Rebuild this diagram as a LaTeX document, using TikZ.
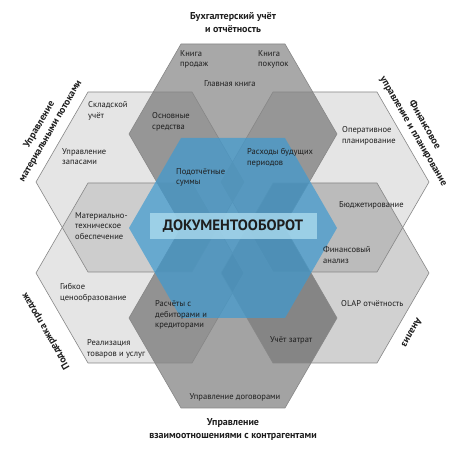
\documentclass[tikz,border=0pt]{standalone}
\usepackage{fontspec}
\setmainfont{PT Sans}
\definecolor{hexblue}{RGB}{61,154,209}
\definecolor{rectblue}{RGB}{170,218,238}
\definecolor{edgegray}{RGB}{135,135,135}
\definecolor{txt}{RGB}{30,30,30}
\begin{document}
\begin{tikzpicture}[x=1pt,y=-1pt,
  hexa/.pic={\path[pic actions] (-104,0) -- (-52,-90) -- (52,-90) -- (104,0) -- (52,90) -- (-52,90) -- cycle;},
  lbl/.style={font=\fontsize{8.5}{10.8}\selectfont, align=left, inner sep=0pt, anchor=north west, text=txt},
  hd/.style={font=\bfseries\fontsize{10}{13}\selectfont, align=center, inner sep=0pt, text=txt}]
\useasboundingbox (0,0) rectangle (467,454);
\fill[white] (0,0) rectangle (467,454);
\coordinate (cC) at (233,228);
\coordinate (cT) at (233,134);
\coordinate (cB) at (233,318);
\coordinate (cUL) at (140,182);
\coordinate (cUR) at (325,182);
\coordinate (cLL) at (140,273);
\coordinate (cLR) at (325,273);
% grey hexagons
\pic[fill=black, fill opacity=0.10] at (cUL) {hexa};
\pic[fill=black, fill opacity=0.10] at (cLL) {hexa};
\pic[fill=black, fill opacity=0.10] at (cUR) {hexa};
\pic[fill=black, fill opacity=0.18] at (cLR) {hexa};
\pic[fill=black, fill opacity=0.34] at (cT) {hexa};
\pic[fill=black, fill opacity=0.36] at (cB) {hexa};
\foreach \c in {cUL,cLL,cUR,cLR,cT,cB}
  \pic[draw=edgegray, line width=0.6pt] at (\c) {hexa};
% blue hexagon
\pic[fill=hexblue, fill opacity=0.7] at (cC) {hexa};
% labels
\node[lbl] (kp) at (180,50) {Книга\\продаж};
\node[lbl] (kpk) at (258,50) {Книга\\покупок};
\node[lbl] (gk) at (204,80) {Главная книга};
\node[lbl] (os) at (152,112) {Основные\\средства};
\node[lbl] (su) at (88,101) {Складской\\учёт};
\node[lbl] (uz) at (62,148) {Управление\\запасами};
\node[lbl] (mto) at (75,212) {Материально-\\техническое\\обеспечение};
\node[lbl] (op) at (342,126) {Оперативное\\планирование};
\node[lbl] (bud) at (339,201) {Бюджетирование};
\node[lbl] (fa) at (323,246) {Финансовый\\анализ};
\node[lbl] (olap) at (341,300) {OLAP отчётность};
\node[lbl] (gc) at (60,283) {Гибкое\\ценообразование};
\node[lbl] (rt) at (87,339) {Реализация\\товаров и услуг};
\node[lbl] (rd) at (155,300) {Расчёты с\\дебиторами и\\кредиторами};
\node[lbl] (uzt) at (270,336) {Учёт затрат};
\node[lbl, anchor=center] (ud) at (235,397) {Управление договорами};
\node[lbl] (rbp) at (247,148) {Расходы будущих\\периодов};
\node[lbl] (ps) at (176,168) {Подотчётные\\суммы};
% central title
\node[fill=rectblue, fill opacity=0.8, text opacity=1, minimum width=167pt, minimum height=26pt, inner sep=0pt,
      font=\bfseries\fontsize{15}{18}\selectfont, text=txt] (doc) at (233,226) {ДОКУМЕНТООБОРОТ};
% headings
\node[hd] (h1) at (233,23) {Бухгалтерский учёт\\и отчётность};
\node[hd] (h2) at (233,430) {Управление\\взаимоотношениями с контрагентами};
\node[hd, rotate=60] (h3) at (45,128) {Управление\\материальными потоками};
\node[hd, rotate=-60] (h4) at (419,128) {Финансовое\\управление и планирование};
\node[hd, rotate=120] (h5) at (46,331) {Поддержка продаж};
\node[hd, rotate=-120] (h6) at (412,333) {Анализ};
\end{tikzpicture}
\end{document}
